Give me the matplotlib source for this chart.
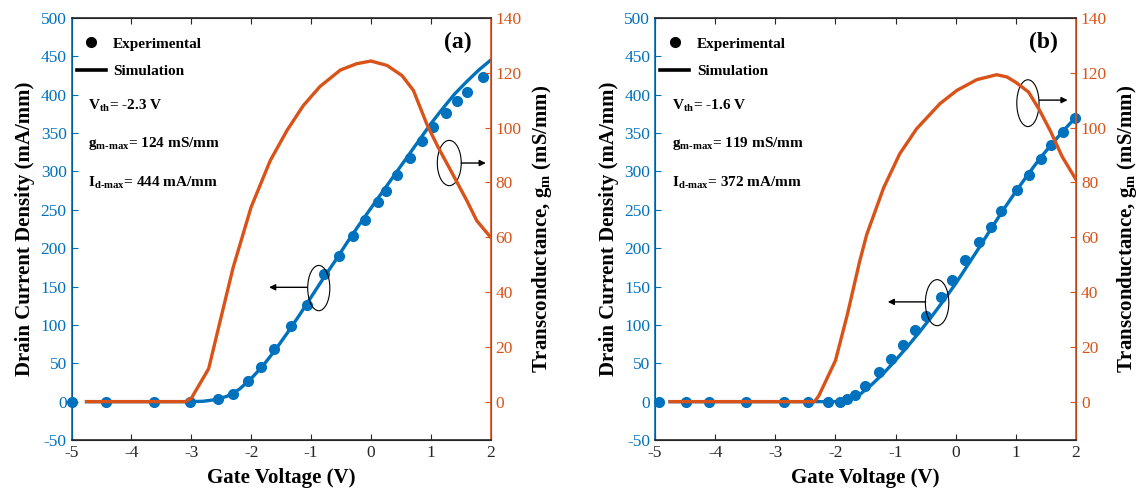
import matplotlib
matplotlib.use('Agg')
import matplotlib.pyplot as plt
from matplotlib.patches import Ellipse
from matplotlib.lines import Line2D

plt.rcParams['font.family'] = ['Liberation Serif', 'DejaVu Serif']
plt.rcParams['mathtext.fontset'] = 'custom'
plt.rcParams['mathtext.rm'] = 'Liberation Serif:bold'
plt.rcParams['mathtext.bf'] = 'Liberation Serif:bold'
plt.rcParams['axes.unicode_minus'] = False

BLUE = '#0072BD'
ORANGE = '#D95319'

# ---- panel (a) data ----
exp_a_v = [-5.0, -4.42, -3.62, -3.02, -2.55, -2.31, -2.06, -1.83, -1.61, -1.33, -1.06,
           -0.78, -0.53, -0.30, -0.10, 0.12, 0.26, 0.44, 0.65, 0.86, 1.04, 1.25, 1.44, 1.61, 1.88]
exp_a_id = [0, 0, 0, -1, 3, 10, 27, 45, 68, 98, 126,
            167, 190, 216, 237, 260, 275, 295, 318, 340, 358, 376, 392, 404, 423]
sim_a_v = [-4.75, -3.0, -2.8, -2.6, -2.4, -2.2, -2.0, -1.8, -1.6, -1.4, -1.2, -1.0, -0.8, -0.6,
           -0.4, -0.2, 0.0, 0.2, 0.4, 0.6, 0.8, 1.0, 1.2, 1.4, 1.6, 1.8, 2.0]
sim_a_id = [0, 0, 0.5, 2.5, 7, 16, 30, 47, 67, 89, 112, 136, 160, 183,
            207, 230, 252, 274, 296, 318, 340, 362, 382, 401, 417, 432, 445]
gm_a_v = [-4.75, -3.1, -3.0, -2.71, -2.5, -2.3, -2.0, -1.68, -1.40, -1.13, -0.85, -0.51,
          -0.24, 0.0, 0.27, 0.52, 0.71, 0.94, 1.12, 1.36, 1.60, 1.77, 2.0]
gm_a = [0, 0, 1.2, 12, 31, 49, 71, 88, 99, 108, 115, 121,
        123.3, 124.3, 122.7, 119, 113.6, 101, 93, 83.3, 73.5, 66, 60]

# ---- panel (b) data ----
exp_b_v = [-4.93, -4.49, -4.10, -3.48, -2.86, -2.46, -2.13, -1.92, -1.80, -1.67, -1.51, -1.27,
           -1.07, -0.87, -0.67, -0.50, -0.25, -0.06, 0.16, 0.39, 0.58, 0.76, 1.02, 1.22, 1.41,
           1.59, 1.78, 1.98]
exp_b_id = [0, 0, 0, 0, 0, 0, 0, 0, 3, 9, 21, 38,
            56, 74, 94, 112, 137, 159, 184, 208, 228, 248, 276, 296, 316,
            334, 351, 370]
sim_b_v = [-4.75, -2.0, -1.8, -1.6, -1.4, -1.2, -1.0, -0.8, -0.6, -0.4, -0.2, 0.0, 0.2, 0.4,
           0.6, 0.8, 1.0, 1.2, 1.4, 1.6, 1.8, 2.0]
sim_b_id = [0, 0, 2, 9, 22, 37, 54, 72, 91, 111, 132, 154, 178, 202,
            227, 251, 274, 296, 317, 336, 354, 371]
gm_b_v = [-4.75, -2.35, -2.28, -2.0, -1.8, -1.6, -1.48, -1.2, -0.93, -0.65, -0.26, 0.02,
          0.35, 0.68, 0.85, 1.0, 1.21, 1.39, 1.58, 1.77, 2.0]
gm_b = [0, 0, 2, 15, 32, 51, 61, 78, 90.5, 99.6, 108.8, 113.6,
        117.5, 119.3, 118.5, 116.5, 113, 106.5, 98.5, 89.4, 81]

panels = [
    dict(rect=[0.0626, 0.1057, 0.3666, 0.8577], tag='(a)',
         ev=exp_a_v, ei=exp_a_id, sv=sim_a_v, si=sim_a_id, gv=gm_a_v, g=gm_a,
         info=['V$_{\\mathrm{th}}$= -2.3 V', 'g$_{\\mathrm{m\\text{-}max}}$= 124 mS/mm',
               'I$_{\\mathrm{d\\text{-}max}}$= 444 mA/mm'],
         ell_l=(-0.87, 148, 0.37, 59), arr_l=(-1.07, -1.70, 149),
         ell_r=(1.31, 311, 0.40, 59), arr_r=(1.51, 1.92, 311)),
    dict(rect=[0.5731, 0.1057, 0.3683, 0.8577], tag='(b)',
         ev=exp_b_v, ei=exp_b_id, sv=sim_b_v, si=sim_b_id, gv=gm_b_v, g=gm_b,
         info=['V$_{\\mathrm{th}}$= -1.6 V', 'g$_{\\mathrm{m\\text{-}max}}$= 119 mS/mm',
               'I$_{\\mathrm{d\\text{-}max}}$= 372 mA/mm'],
         ell_l=(-0.31, 129, 0.39, 60), arr_l=(-0.50, -1.13, 130),
         ell_r=(1.20, 389, 0.37, 61), arr_r=(1.39, 1.86, 393)),
]

fig = plt.figure(figsize=(11.43, 4.92), dpi=100)

for p in panels:
    ax = fig.add_axes(p['rect'])
    ax2 = ax.twinx()

    ax.plot(p['sv'], p['si'], color=BLUE, lw=2.4, zorder=2)
    ax.plot(p['ev'], p['ei'], 'o', color=BLUE, ms=7, zorder=3, clip_on=False)
    ax2.plot(p['gv'], p['g'], color=ORANGE, lw=2.4)

    ax.set_xlim(-5, 2)
    ax.set_ylim(-50, 500)
    ax2.set_ylim(-14, 140)
    ax.set_xticks(range(-5, 3))
    ax.set_yticks(range(-50, 501, 50))
    ax2.set_yticks(range(0, 141, 20))

    ax.tick_params(axis='x', direction='in', top=True, length=4, labelsize=12.5,
                   colors='#262626')
    ax.tick_params(axis='y', direction='in', length=4, labelsize=12.5, colors=BLUE)
    ax2.tick_params(axis='y', direction='in', length=4, labelsize=12.5, colors=ORANGE)
    for s in ['top', 'bottom']:
        ax.spines[s].set_color('#262626')
        ax2.spines[s].set_color('#262626')
    ax2.spines['left'].set_color(BLUE)
    ax2.spines['right'].set_color(ORANGE)
    for s in ax2.spines.values():
        s.set_linewidth(1.2)

    ax.set_xlabel('Gate Voltage (V)', fontsize=15, fontweight='bold', labelpad=5)
    ax.set_ylabel('Drain Current Density (mA/mm)', fontsize=15, fontweight='bold', labelpad=4)
    ax2.set_ylabel('Transconductance, g$_{\\mathrm{m}}$ (mS/mm)', fontsize=15,
                   fontweight='bold', labelpad=6)

    # legend
    handles = [Line2D([], [], marker='o', ls='none', color='black', ms=7),
               Line2D([], [], color='black', lw=2.6)]
    ax2.legend(handles, ['Experimental', 'Simulation'], loc='upper left',
               bbox_to_anchor=(0.012, 0.955), frameon=False, borderpad=0,
               borderaxespad=0, handlelength=1.9, handletextpad=0.5,
               labelspacing=0.9, prop=dict(weight='bold', size=11))

    ax.text(1.46, 468, p['tag'], fontsize=17, fontweight='bold', ha='center', va='center')
    for txt, yv in zip(p['info'], [386, 336, 286]):
        ax.text(-4.72, yv, txt, fontsize=11, fontweight='bold', ha='left', va='center')

    for ex, (lo, hi, yv) in [(p['ell_l'], p['arr_l']), (p['ell_r'], p['arr_r'])]:
        ax.add_patch(Ellipse((ex[0], ex[1]), ex[2], ex[3], fill=False,
                             edgecolor='black', lw=0.8, zorder=4))
        ax.annotate('', xy=(hi, yv), xytext=(lo, yv),
                    arrowprops=dict(arrowstyle='-|>', color='black', lw=1.0,
                                    mutation_scale=9, shrinkA=0, shrinkB=0))

fig.savefig('out.png', dpi=100)
